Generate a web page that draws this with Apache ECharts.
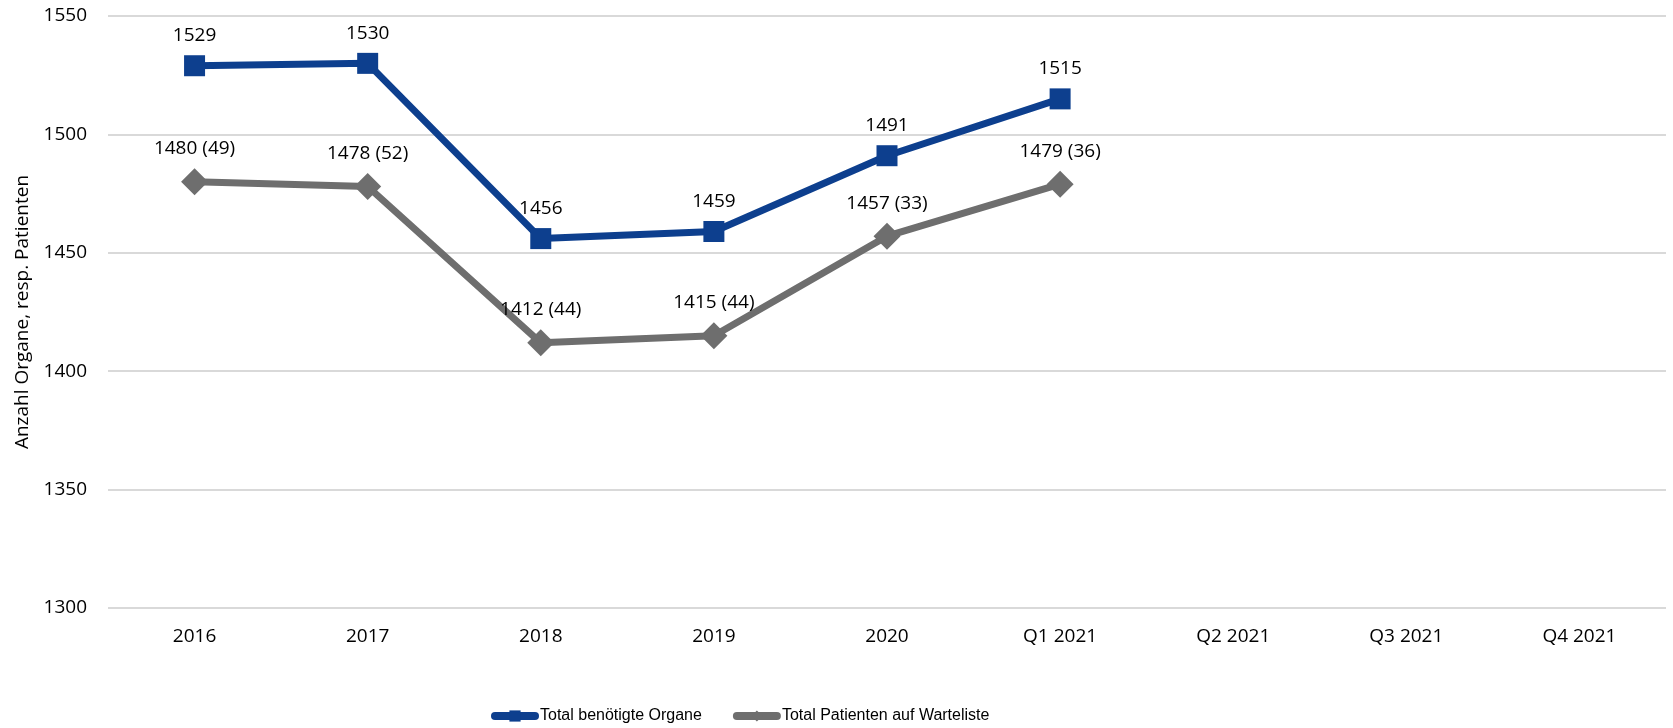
<!DOCTYPE html>
<html>
<head>
<meta charset="utf-8">
<script src="https://cdn.jsdelivr.net/npm/echarts@6/dist/echarts.min.js"></script>
<style>html,body{margin:0;padding:0;background:#fff}#c{width:1673px;height:728px}</style>
</head>
<body>
<div id="c"></div>
<script>
var categories = ['2016','2017','2018','2019','2020','Q1 2021','Q2 2021','Q3 2021','Q4 2021'];
var organe = [1529, 1530, 1456, 1459, 1491, 1515];
var patienten = [1480, 1478, 1412, 1415, 1457, 1479];
var klammer = [49, 52, 44, 44, 33, 36];
var yTicks = [1300, 1350, 1400, 1450, 1500, 1550];

var numFont = 'Open Sans';
var chart = echarts.init(document.getElementById('c'));
chart.setOption({
  animation: false,
  grid: {left: 108, right: 7, top: 16, bottom: 120, containLabel: false, outerBoundsMode: 'none'},
  legend: {
    left: 486, top: 703,
    itemWidth: 40, itemHeight: 14, itemGap: 31,
    lineStyle: {width: 8, cap: 'round'},
    textStyle: {fontFamily: 'Liberation Sans', fontSize: 16, color: '#000'},
    data: ['Total benötigte Organe', 'Total Patienten auf Warteliste']
  },
  xAxis: {
    type: 'category', data: categories, boundaryGap: true,
    axisLine: {show: false}, axisTick: {show: false},
    axisLabel: {fontFamily: numFont, fontSize: 19, color: '#000', margin: 19}
  },
  yAxis: {
    type: 'value', min: yTicks[0], max: yTicks[yTicks.length-1], interval: 50,
    name: 'Anzahl Organe, resp. Patienten', nameLocation: 'middle', nameGap: 76,
    nameTextStyle: {fontFamily: numFont, fontSize: 19, color: '#000'},
    axisLine: {show: false}, axisTick: {show: false},
    axisLabel: {fontFamily: numFont, fontSize: 19, color: '#000', margin: 21,
      formatter: function(v){ return String(v); }},
    splitLine: {lineStyle: {color: '#d9d9d9', width: 2}}
  },
  series: [
    {
      name: 'Total benötigte Organe', type: 'line', data: organe,
      symbol: 'rect', symbolSize: 21,
      lineStyle: {color: '#0d3f8e', width: 7},
      itemStyle: {color: '#0d3f8e'},
      label: {show: true, position: 'top', distance: 10, fontFamily: numFont, fontSize: 19, color: '#000'},
      z: 3
    },
    {
      name: 'Total Patienten auf Warteliste', type: 'line', data: patienten,
      symbol: 'diamond', symbolSize: 27,
      lineStyle: {color: '#6e6e6e', width: 7},
      itemStyle: {color: '#6e6e6e'},
      label: {show: true, position: 'top', distance: 10, fontFamily: numFont, fontSize: 19, color: '#000',
        formatter: function(p){ return p.value + ' (' + klammer[p.dataIndex] + ')'; }},
      z: 2
    }
  ]
});
</script>
</body>
</html>
